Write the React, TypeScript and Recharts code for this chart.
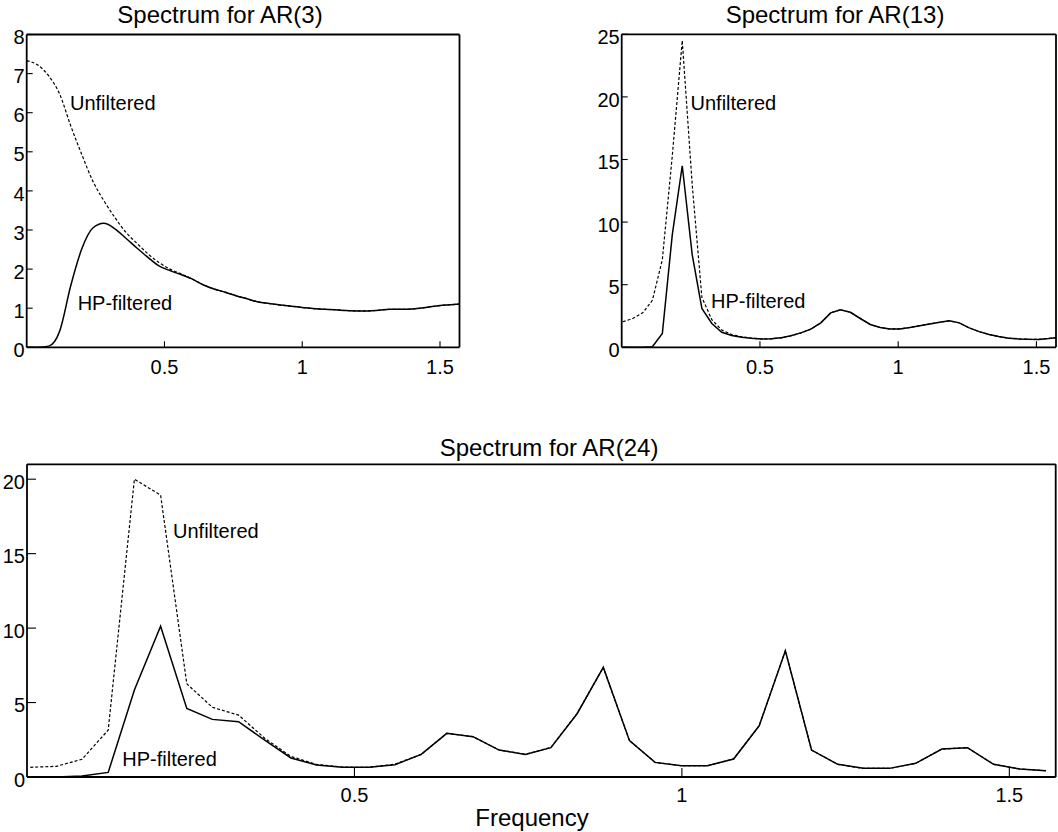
import { LineChart, Line, XAxis, YAxis, ReferenceDot } from 'recharts';

const FONT = '"Liberation Sans", Arial, Helvetica, sans-serif';
const HALF_PI = Math.PI / 2;
const xTicks = [0.5, 1, 1.5];

// AR(3) spectrum
const freq3 = [0, 0.04, 0.08, 0.12, 0.16, 0.2, 0.24, 0.28, 0.32, 0.36, 0.4, 0.44, 0.48, 0.52, 0.56, 0.6, 0.64, 0.68, 0.72, 0.76, 0.8, 0.84, 0.88, 0.92, 0.96, 1.0, 1.04, 1.08, 1.12, 1.16, 1.2, 1.24, 1.28, 1.32, 1.36, 1.4, 1.44, 1.48, 1.52, 1.56, 1.571];
const unf3 = [7.33, 7.22, 6.94, 6.47, 5.66, 4.93, 4.25, 3.75, 3.32, 2.94, 2.66, 2.39, 2.17, 2.0, 1.88, 1.75, 1.6, 1.49, 1.41, 1.32, 1.24, 1.16, 1.12, 1.08, 1.05, 1.02, 0.99, 0.97, 0.96, 0.94, 0.93, 0.93, 0.95, 0.97, 0.97, 0.98, 1.01, 1.05, 1.08, 1.1, 1.11];
const hp3 = [0, 0, 0.03, 0.42, 1.58, 2.52, 3.05, 3.17, 3.03, 2.79, 2.54, 2.3, 2.08, 1.96, 1.86, 1.75, 1.6, 1.49, 1.41, 1.32, 1.24, 1.16, 1.12, 1.08, 1.05, 1.02, 0.99, 0.97, 0.96, 0.94, 0.93, 0.93, 0.95, 0.97, 0.97, 0.98, 1.01, 1.05, 1.08, 1.1, 1.11];
const yTicks3 = [0, 1, 2, 3, 4, 5, 6, 7, 8];

// AR(13) spectrum
const freq13 = [0.004, 0.04, 0.076, 0.111, 0.147, 0.183, 0.219, 0.255, 0.29, 0.326, 0.362, 0.398, 0.434, 0.469, 0.505, 0.541, 0.577, 0.612, 0.648, 0.684, 0.72, 0.756, 0.791, 0.827, 0.863, 0.899, 0.935, 0.97, 1.006, 1.042, 1.078, 1.114, 1.15, 1.185, 1.221, 1.257, 1.293, 1.329, 1.364, 1.4, 1.436, 1.472, 1.508, 1.544, 1.571];
const unf13 = [2.04, 2.3, 2.75, 3.75, 7.0, 15.3, 24.5, 13.0, 4.0, 2.2, 1.38, 1.02, 0.84, 0.73, 0.67, 0.68, 0.76, 0.92, 1.15, 1.45, 1.95, 2.75, 3.0, 2.8, 2.3, 1.82, 1.58, 1.47, 1.47, 1.58, 1.73, 1.86, 2.0, 2.12, 1.95, 1.55, 1.25, 1.02, 0.86, 0.73, 0.67, 0.64, 0.63, 0.7, 0.77];
const hp13 = [0, 0, 0, 0.05, 1.1, 9.0, 14.5, 7.4, 3.1, 1.9, 1.2, 0.95, 0.8, 0.72, 0.66, 0.68, 0.76, 0.92, 1.15, 1.45, 1.95, 2.75, 3.0, 2.8, 2.3, 1.82, 1.58, 1.47, 1.47, 1.58, 1.73, 1.86, 2.0, 2.12, 1.95, 1.55, 1.25, 1.02, 0.86, 0.73, 0.67, 0.64, 0.63, 0.7, 0.77];
const yTicks13 = [0, 5, 10, 15, 20, 25];

// AR(24) spectrum
const freq24 = [0.005, 0.045, 0.084, 0.124, 0.164, 0.204, 0.244, 0.283, 0.323, 0.363, 0.403, 0.442, 0.482, 0.522, 0.562, 0.602, 0.641, 0.681, 0.721, 0.761, 0.8, 0.84, 0.88, 0.92, 0.959, 0.999, 1.039, 1.079, 1.118, 1.158, 1.198, 1.238, 1.277, 1.317, 1.357, 1.397, 1.436, 1.476, 1.516, 1.556];
const unf24 = [0.65, 0.72, 1.19, 3.15, 20.0, 18.93, 6.26, 4.68, 4.16, 2.6, 1.38, 0.85, 0.66, 0.65, 0.86, 1.52, 2.93, 2.71, 1.81, 1.52, 1.99, 4.27, 7.36, 2.44, 0.98, 0.76, 0.76, 1.21, 3.44, 8.48, 1.81, 0.85, 0.58, 0.58, 0.92, 1.88, 1.97, 0.85, 0.54, 0.42];
const hp24 = [0, 0, 0.07, 0.31, 5.84, 10.13, 4.61, 3.87, 3.71, 2.48, 1.28, 0.81, 0.65, 0.65, 0.83, 1.52, 2.93, 2.71, 1.81, 1.52, 1.97, 4.25, 7.36, 2.44, 0.98, 0.76, 0.76, 1.21, 3.44, 8.48, 1.81, 0.85, 0.58, 0.58, 0.92, 1.88, 1.97, 0.85, 0.54, 0.42];
const yTicks24 = [0, 5, 10, 15, 20];

const zip = (f: number[], u: number[], h: number[]) => f.map((x, i) => ({ f: x, unf: u[i], hp: h[i] }));

type Note = { x: number; y: number; text: string };

type PanelProps = {
  data: { f: number; unf: number; hp: number }[];
  yMax: number;
  yTicks: number[];
  left: number;
  top: number;
  width: number;
  height: number;
  margin: { top: number; right: number; bottom: number; left: number };
  yAxisWidth: number;
  tickLen: number;
  labelGap: number;
  curve: 'linear' | 'monotone';
  notes: Note[];
};

const axisLine = { stroke: '#000', strokeWidth: 1.8 };
const tickLine = { stroke: '#000', strokeWidth: 1.1 };
const tickFont = { fontSize: 20, fill: '#000', fontFamily: FONT };

const Panel = ({ data, yMax, yTicks, left, top, width, height, margin, yAxisWidth, tickLen, labelGap, curve, notes }: PanelProps) => (
  <div style={{ position: 'absolute', left, top }}>
    <LineChart width={width} height={height} data={data} margin={margin}>
      <XAxis xAxisId="b" dataKey="f" type="number" domain={[0, HALF_PI]} ticks={xTicks} interval={0} allowDataOverflow
        height={30} tickSize={-tickLen} tickMargin={tickLen + labelGap} axisLine={axisLine} tickLine={tickLine} tick={tickFont} />
      <XAxis xAxisId="t" orientation="top" dataKey="f" type="number" domain={[0, HALF_PI]} ticks={xTicks} interval={0} allowDataOverflow
        height={1} tickSize={-tickLen} axisLine={axisLine} tickLine={tickLine} tick={false} />
      <YAxis yAxisId="l" type="number" domain={[0, yMax]} ticks={yTicks} interval={0} allowDataOverflow
        width={yAxisWidth} tickSize={-tickLen} tickMargin={tickLen + 2} axisLine={axisLine} tickLine={tickLine}
        tick={{ ...tickFont, dy: 2.5 }} />
      <YAxis yAxisId="r" orientation="right" type="number" domain={[0, yMax]} ticks={yTicks} interval={0} allowDataOverflow
        width={1} tickSize={-tickLen} axisLine={axisLine} tickLine={tickLine} tick={false} />
      <Line xAxisId="b" yAxisId="l" type={curve} dataKey="unf" stroke="#000" strokeWidth={1.2} strokeDasharray="3 2"
        dot={false} activeDot={false} isAnimationActive={false} />
      <Line xAxisId="b" yAxisId="l" type={curve} dataKey="hp" stroke="#000" strokeWidth={1.5}
        dot={false} activeDot={false} isAnimationActive={false} />
      {notes.map((n) => (
        <ReferenceDot key={n.text} xAxisId="b" yAxisId="l" x={n.x} y={n.y} r={0} fill="none" stroke="none"
          label={{ value: n.text, position: 'right', offset: 0, fontSize: 20, fill: '#000', fontFamily: FONT }} />
      ))}
    </LineChart>
  </div>
);

const App = () => (
  <div style={{ position: 'absolute', left: 0, top: 0, width: 1058, height: 832, background: '#fff', overflow: 'hidden' }}>
    <svg width={1058} height={832} style={{ position: 'absolute', left: 0, top: 0 }}>
      <g fontFamily={FONT} fontSize={24} fill="#000" textAnchor="middle">
        <text x={220} y={23}>Spectrum for AR(3)</text>
        <text x={835} y={23}>Spectrum for AR(13)</text>
        <text x={549} y={456}>Spectrum for AR(24)</text>
        <text x={532} y={826}>Frequency</text>
      </g>
    </svg>
    <Panel data={zip(freq3, unf3, hp3)} yMax={8} yTicks={yTicks3} left={0} top={0} width={520} height={400}
      margin={{ top: 33.5, right: 59.5, bottom: 22.7, left: 6.7 }} yAxisWidth={20} tickLen={6} labelGap={12.7} curve="monotone"
      notes={[{ x: 0.157, y: 6.26, text: 'Unfiltered' }, { x: 0.185, y: 1.14, text: 'HP-filtered' }]} />
    <Panel data={zip(freq13, unf13, hp13)} yMax={25} yTicks={yTicks13} left={560} top={0} width={498} height={400}
      margin={{ top: 33.3, right: 1, bottom: 22.7, left: 31.7 }} yAxisWidth={30} tickLen={6} labelGap={12.7} curve="linear"
      notes={[{ x: 0.249, y: 19.5, text: 'Unfiltered' }, { x: 0.323, y: 3.68, text: 'HP-filtered' }]} />
    <Panel data={zip(freq24, unf24, hp24)} yMax={21} yTicks={yTicks24} left={0} top={420} width={1058} height={412}
      margin={{ top: 43.3, right: 1.3, bottom: 25, left: 7 }} yAxisWidth={20} tickLen={9} labelGap={11} curve="linear"
      notes={[{ x: 0.223, y: 16.5, text: 'Unfiltered' }, { x: 0.1455, y: 1.23, text: 'HP-filtered' }]} />
  </div>
);

export default App;
